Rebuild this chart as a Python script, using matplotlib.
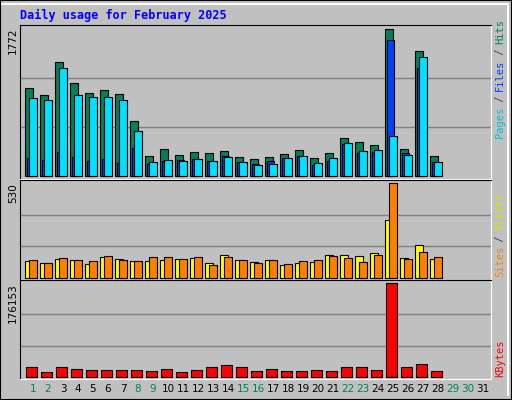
import matplotlib
matplotlib.use("Agg")
import matplotlib.pyplot as plt
import numpy as np

days = list(range(1, 32))
data_days = np.arange(1, 29)
weekend = [1, 2, 8, 9, 15, 16, 22, 23, 29, 30]

hits = [1062, 978, 1375, 1123, 1002, 1038, 990, 665, 245, 329, 257, 293, 281, 305,
        233, 208, 233, 269, 317, 220, 281, 461, 413, 377, 1772, 329, 1507, 245]
files = [220, 196, 293, 233, 184, 208, 160, 341, 148, 184, 196, 208, 184, 245,
         172, 148, 184, 220, 245, 136, 184, 389, 281, 293, 1640, 281, 1303, 172]
pages = [942, 918, 1303, 978, 954, 954, 918, 545, 172, 196, 184, 208, 184, 233,
         172, 136, 148, 220, 245, 160, 220, 401, 305, 317, 485, 257, 1435, 172]
visits = [94, 82, 105, 99, 77, 117, 105, 94, 94, 99, 105, 111, 82, 128,
          99, 88, 99, 71, 82, 88, 128, 128, 122, 140, 323, 111, 186, 105]
sites = [99, 82, 111, 99, 94, 122, 99, 94, 117, 117, 105, 117, 71, 117,
         99, 82, 99, 77, 94, 99, 122, 111, 88, 128, 530, 105, 145, 117]
kbytes = [18000, 10300, 18000, 16075, 14150, 14150, 14150, 14150, 12200, 16075,
          10300, 14150, 18000, 21860, 18000, 12200, 16075, 12200, 12200, 14150,
          12200, 18000, 18000, 14150, 176153, 18000, 23800, 12200]

BG = "#C0C0C0"
W, H = 512, 400
fig = plt.figure(figsize=(W / 100, H / 100), dpi=100, facecolor=BG)
MONO = "DejaVu Sans Mono"

def ax_px(x0, y0, x1, y1):
    return fig.add_axes([x0 / W, 1 - y1 / H, (x1 - x0) / W, (y1 - y0) / H])

xl = (1 - 13 / 15, 1 - 13 / 15 + 471 / 15)
panels = [(25, 179, 1772), (180, 280, 530), (280, 379, 176153)]
axes = []
for y0, y1, top in panels:
    ax = ax_px(20, y0, 491, y1)
    ax.set_facecolor(BG)
    ax.set_xlim(*xl)
    ax.set_ylim(-top * 0.02, top * 1.03)
    ax.set_xticks([]); ax.set_yticks([])
    for g in (top / 3, 2 * top / 3):
        ax.axhline(g, color="#808080", lw=1, zorder=0)
    for s in ax.spines.values():
        s.set_color("black")
    ax.spines["bottom"].set_color("white")
    ax.spines["right"].set_color("white")
    axes.append(ax)

w = 7.3 / 15
kw = dict(edgecolor="black", linewidth=0.8, align="edge")
a1, a2, a3 = axes
a1.bar(data_days - 7.7 / 15, hits, w, color="#00805C", **kw)
a1.bar(data_days - 6.3 / 15, files, w, color="#0040FF", **kw)
a1.bar(data_days - 3.7 / 15, pages, w, color="#00E0FF", **kw)
a2.bar(data_days - 7.7 / 15, visits, w, color="#FFFF00", **kw)
a2.bar(data_days - 3.7 / 15, sites, w, color="#FF8000", **kw)
a3.bar(data_days - 6.7 / 15, kbytes, 10.3 / 15, color="#FF0000", **kw)

# max value labels
for (y0, y1, top) in panels:
    fig.text(13 / W, 1 - (y0 + 3) / H, str(top), rotation=90, ha="center", va="top",
             fontsize=7.5, family="DejaVu Sans")

# day labels
for d in days:
    x = 20 + (d - xl[0]) * 15
    fig.text(x / W, 1 - 389 / H, str(d), ha="center", va="center", fontsize=7.5,
             color="#00805C" if d in weekend else "black")

fig.text(20 / W, 1 - 15 / H, "Daily usage for February 2025", ha="left", va="center",
         fontsize=8.5, weight="bold", family=MONO, color="#0000FF")

def side_label(parts, ybottom):
    y = ybottom
    for txt, col in parts:
        t = fig.text(500 / W, 1 - y / H, txt, rotation=90, ha="center", va="bottom",
                     fontsize=7.5, family=MONO, color=col)
        y -= len(txt) * 5.9

side_label([("Pages", "#00C0E0"), (" / ", "#404040"), ("Files", "#0040FF"),
            (" / ", "#404040"), ("Hits", "#00805C")], 138)
side_label([("Sites", "#FF8000"), (" / ", "#404040"), ("Visits", "#E0E000")], 277)
side_label([("KBytes", "#FF0000")], 377)

# outer frame
fr = fig.add_axes([0, 0, 1, 1], facecolor="none", zorder=-1)
fr.set_xticks([]); fr.set_yticks([])
for s in fr.spines.values():
    s.set_color("black"); s.set_linewidth(1.5)
fr.plot([2 / W, 1 - 4 / W, 1 - 4 / W], [1 - 4 / H, 1 - 4 / H, 5 / H], color="white", lw=1.5,
        transform=fr.transAxes)

fig.savefig("out.png", dpi=100, facecolor=BG)
